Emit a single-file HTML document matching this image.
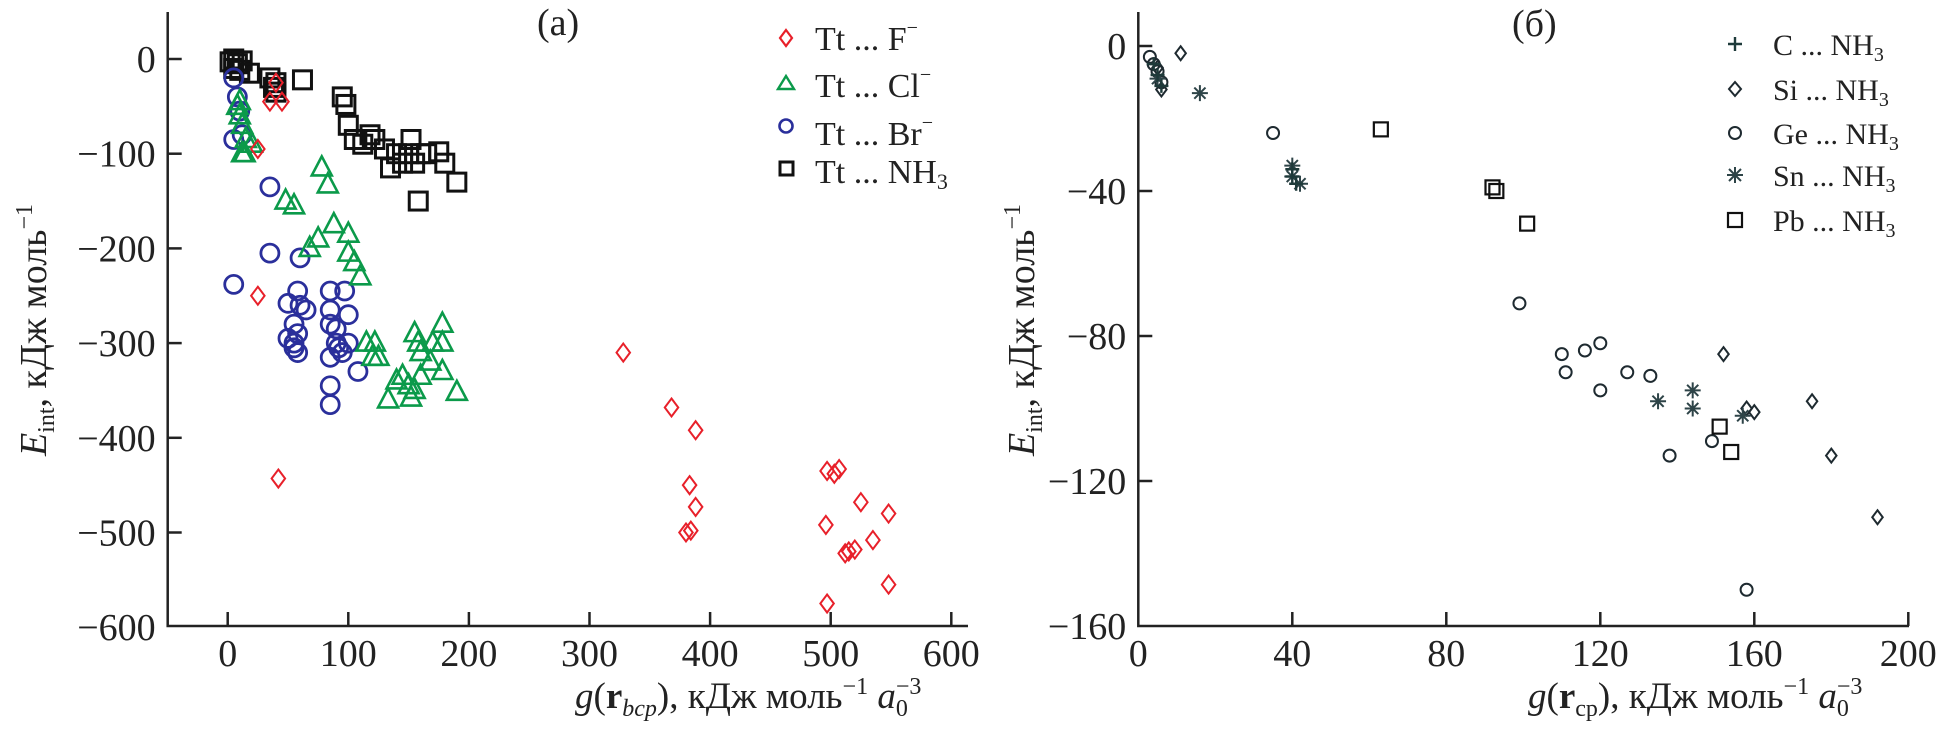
<!DOCTYPE html>
<html><head><meta charset="utf-8"><style>
html,body{margin:0;padding:0;background:#fff}
svg{display:block;font-family:"Liberation Serif",serif}
</style></head><body>
<svg id="chart" width="1951" height="737" viewBox="0 0 1951 737" xmlns="http://www.w3.org/2000/svg">
<g id="pa"></g>
<g id="pb"></g>
</svg>
<script>
// Panel (a) data
const aTicksX=[0,100,200,300,400,500,600];
const aTicksY=[0,-100,-200,-300,-400,-500,-600];
const aF_x=[40,45,35,25,25,42,328,368,388,383,388,380,384,497,503,507,496,525,548,535,520,512,515,548,497];
const aF_y=[-25,-45,-45,-95,-250,-443,-310,-368,-392,-450,-473,-500,-498,-435,-438,-433,-492,-468,-480,-508,-518,-522,-520,-555,-575];
const aCl_x=[8,10,10,12,15,20,12,14,78,83,55,48,88,75,68,100,100,105,110,115,122,125,120,155,158,160,170,178,178,168,178,145,140,150,155,152,133,190,160];
const aCl_y=[-50,-45,-60,-70,-85,-90,-100,-100,-115,-133,-155,-150,-175,-190,-200,-185,-205,-215,-230,-300,-300,-315,-315,-290,-300,-310,-300,-280,-300,-320,-330,-335,-340,-345,-350,-358,-360,-352,-335];
const aBr_x=[5,8,10,12,5,35,35,60,5,58,85,97,50,60,65,85,100,85,90,55,58,50,55,58,100,95,92,90,85,108,85,85,55];
const aBr_y=[-20,-40,-55,-80,-85,-135,-205,-210,-238,-245,-245,-245,-258,-260,-265,-265,-270,-280,-285,-280,-290,-295,-300,-310,-300,-310,-305,-300,-315,-330,-345,-365,-305];
const aN_x=[2,5,8,12,5,10,18,35,40,40,38,62,95,98,100,105,112,118,122,130,140,145,150,152,155,160,165,175,180,190,158,135];
const aN_y=[-3,0,-5,-2,-10,-12,-15,-20,-25,-35,-30,-22,-40,-48,-70,-85,-90,-80,-85,-95,-100,-110,-100,-85,-110,-100,-100,-98,-110,-130,-150,-115];
// Panel (б) data
const bTicksX=[0,40,80,120,160,200];
const bTicksY=[0,-40,-80,-120,-160];
const bC_x=[4,5,6,40,41,40];
const bC_y=[-5,-8,-11,-34,-38,-36];
const bSi_x=[11,5,6,152,158,160,175,180,192];
const bSi_y=[-2,-6,-12,-85,-100,-101,-98,-113,-130];
const bGe_x=[3,4,5,6,35,99,110,111,116,120,120,127,133,138,149,158];
const bGe_y=[-3,-5,-7,-10,-24,-71,-85,-90,-84,-82,-95,-90,-91,-113,-109,-150];
const bSn_x=[16,40,40,42,135,144,144,157,5];
const bSn_y=[-13,-33,-36,-38,-98,-95,-100,-102,-9];
const bPb_x=[63,92,93,101,151,154];
const bPb_y=[-23,-39,-40,-49,-105,-112];

const NS="http://www.w3.org/2000/svg";
function mk(tag,attrs,parent){const e=document.createElementNS(NS,tag);for(const k in attrs)e.setAttribute(k,attrs[k]);parent.appendChild(e);return e;}

function marker(g,type,cx,cy,s,color,sw){
  let e;
  if(type==='circle'){e=mk('circle',{cx:cx,cy:cy,r:s,fill:'none',stroke:color,'stroke-width':sw},g);}
  else if(type==='square'){e=mk('rect',{x:cx-s,y:cy-s,width:2*s,height:2*s,fill:'none',stroke:color,'stroke-width':sw},g);}
  else if(type==='tri'){e=mk('polygon',{points:`${cx},${cy-s*1.15} ${cx-s},${cy+s*0.75} ${cx+s},${cy+s*0.75}`,fill:'none',stroke:color,'stroke-width':sw},g);}
  else if(type==='diamond'){e=mk('polygon',{points:`${cx},${cy-s} ${cx+s*0.75},${cy} ${cx},${cy+s} ${cx-s*0.75},${cy}`,fill:'none',stroke:color,'stroke-width':sw},g);}
  else if(type==='plus'){e=mk('path',{d:`M${cx-s},${cy}H${cx+s}M${cx},${cy-s}V${cy+s}`,stroke:color,'stroke-width':sw,fill:'none'},g);}
  else if(type==='star'){const d=s*0.7;e=mk('path',{d:`M${cx-s},${cy}H${cx+s}M${cx},${cy-s}V${cy+s}M${cx-d},${cy-d}L${cx+d},${cy+d}M${cx-d},${cy+d}L${cx+d},${cy-d}`,stroke:color,'stroke-width':sw,fill:'none'},g);}
  return e;
}

// ---------- Panel a ----------
const pa=document.getElementById('pa');
const aX=v=>227.7+1.206*v, aY=v=>59-0.947*v;
const aL=167.7,aB=626,aR=968,aT=12;
mk('path',{d:`M${aL},${aT}V${aB}H${aR}`,stroke:'#222',fill:'none','stroke-width':2.5},pa);
aTicksX.forEach(v=>{
  const t=mk('line',{x1:aX(v),x2:aX(v),y1:aB,y2:aB-14,stroke:'#222','stroke-width':2.5},pa);
  
  
  const l=mk('text',{x:aX(v),y:aB+40,'font-size':38,'text-anchor':'middle',fill:'#222'},pa);
  l.textContent=v;
  
  
});
aTicksY.forEach(v=>{
  if(v!==-600){const t=mk('line',{x1:aL,x2:aL+14,y1:aY(v),y2:aY(v),stroke:'#222','stroke-width':2.5},pa);
  
  }
  const l=mk('text',{x:aL-12,y:aY(v)+13,'font-size':38,'text-anchor':'end',fill:'#222'},pa);
  l.textContent=v===0?'0':'\u2212'+Math.abs(v);
  
  
});
function series(g,xs,ys,fx,fy,type,s,color,sw,name){
  const sg=mk('g',{},g);
  
  
  xs.forEach((x,i)=>{const m=marker(sg,type,fx(x),fy(ys[i]),s,color,sw);
    
    });
}
series(pa,aN_x,aN_y,aX,aY,'square',9,'#111',3,'series-nh3');
series(pa,aBr_x,aBr_y,aX,aY,'circle',9,'#2a2f9b',2.8,'series-br');
series(pa,aCl_x,aCl_y,aX,aY,'tri',10,'#0b9a4a',2.6,'series-cl');
series(pa,aF_x,aF_y,aX,aY,'diamond',9,'#e8202a',2,'series-f');

// ---------- Panel b ----------
const pb=document.getElementById('pb');
const bX=v=>1138.3+3.85*v, bY=v=>46-3.625*v;
const bL=1138.3,bB=626,bR=1909,bT=12;
mk('path',{d:`M${bL},${bT}V${bB}H${bR}`,stroke:'#222',fill:'none','stroke-width':2.5},pb);
bTicksX.forEach(v=>{
  if(v!==0){const t=mk('line',{x1:bX(v),x2:bX(v),y1:bB,y2:bB-14,stroke:'#222','stroke-width':2.5},pb);
  
  }
  const l=mk('text',{x:bX(v),y:bB+40,'font-size':38,'text-anchor':'middle',fill:'#222'},pb);
  l.textContent=v;
  
  
});
bTicksY.forEach(v=>{
  if(v!==-160){const t=mk('line',{x1:bL,x2:bL+14,y1:bY(v),y2:bY(v),stroke:'#222','stroke-width':2.5},pb);
  
  }
  const l=mk('text',{x:bL-12,y:bY(v)+13,'font-size':38,'text-anchor':'end',fill:'#222'},pb);
  l.textContent=v===0?'0':'\u2212'+Math.abs(v);
  
  
});
series(pb,bGe_x,bGe_y,bX,bY,'circle',6,'#1e2a30',2,'series-ge');
series(pb,bSi_x,bSi_y,bX,bY,'diamond',7,'#1e2a30',2,'series-si');
series(pb,bPb_x,bPb_y,bX,bY,'square',7,'#111',2.2,'series-pb');
series(pb,bSn_x,bSn_y,bX,bY,'star',8,'#2e4448',2,'series-sn');
series(pb,bC_x,bC_y,bX,bY,'plus',7,'#1e3a3a',2.4,'series-c');
</script>
<svg width="1951" height="737" style="position:absolute;left:0;top:0" xmlns="http://www.w3.org/2000/svg" font-family="Liberation Serif, serif" fill="#222">
 <text x="537" y="35" font-size="38">(a)</text>
 <text x="1512" y="36" font-size="38">(б)</text>
 <!-- Left legend -->
 <g font-size="34">
  <g><polygon points="786,30 792,38 786,46 780,38" fill="none" stroke="#e8202a" stroke-width="2.2"/><text x="815" y="50">Tt ... F<tspan font-size="20" dy="-16">−</tspan></text></g>
  <g><polygon points="786,76 778,89 794,89" fill="none" stroke="#0b9a4a" stroke-width="2.4"/><text x="815" y="97">Tt ... Cl<tspan font-size="20" dy="-16">−</tspan></text></g>
  <g><circle cx="786" cy="126" r="6.5" fill="none" stroke="#2a2f9b" stroke-width="2.6"/><text x="815" y="145">Tt ... Br<tspan font-size="20" dy="-16">−</tspan></text></g>
  <g><rect x="780" y="162" width="13" height="13" fill="none" stroke="#111" stroke-width="3"/><text x="815" y="183">Tt ... NH<tspan font-size="22" dy="6">3</tspan></text></g>
 </g>
 <!-- Right legend -->
 <g font-size="30">
  <g><path d="M1728,44H1742M1735,37V51" stroke="#1e3a3a" stroke-width="2.4"/><text x="1773" y="55">C ... NH<tspan font-size="20" dy="6">3</tspan></text></g>
  <g><polygon points="1735,82 1741,89 1735,96 1729,89" fill="none" stroke="#1e2a30" stroke-width="2"/><text x="1773" y="100">Si ... NH<tspan font-size="20" dy="6">3</tspan></text></g>
  <circle cx="1735" cy="133" r="6" fill="none" stroke="#1e2a30" stroke-width="2"/><text x="1773" y="144">Ge ... NH<tspan font-size="20" dy="6">3</tspan></text>
  <path d="M1727,175H1743M1735,167V183M1729,169L1741,181M1729,181L1741,169" stroke="#2e4448" stroke-width="2"/><text x="1773" y="186">Sn ... NH<tspan font-size="20" dy="6">3</tspan></text>
  <rect x="1728" y="213" width="14" height="14" fill="none" stroke="#111" stroke-width="2.2"/><text x="1773" y="231">Pb ... NH<tspan font-size="20" dy="6">3</tspan></text>
 </g>
 <!-- Axis titles -->
 <text x="575" y="708" font-size="37"><tspan font-style="italic">g</tspan>(<tspan font-weight="bold">r</tspan><tspan font-style="italic" font-size="24" dy="8">bcp</tspan><tspan dy="-8">), кДж моль</tspan><tspan font-size="24" dy="-14">−1</tspan><tspan dy="14"> </tspan><tspan font-style="italic">a</tspan><tspan font-size="24" dy="8">0</tspan><tspan font-size="24" dx="-12" dy="-22">−3</tspan></text>
 <text x="1528" y="708" font-size="37"><tspan font-style="italic">g</tspan>(<tspan font-weight="bold">r</tspan><tspan font-size="24" dy="8">cp</tspan><tspan dy="-8">), кДж моль</tspan><tspan font-size="24" dy="-14">−1</tspan><tspan dy="14"> </tspan><tspan font-style="italic">a</tspan><tspan font-size="24" dy="8">0</tspan><tspan font-size="24" dx="-12" dy="-22">−3</tspan></text>
 <text transform="translate(46,330) rotate(-90)" text-anchor="middle" font-size="38"><tspan font-style="italic">E</tspan><tspan font-size="24" dy="8">int</tspan><tspan dy="-8">, кДж моль</tspan><tspan font-size="24" dy="-14">−1</tspan></text>
 <text transform="translate(1034,330) rotate(-90)" text-anchor="middle" font-size="38"><tspan font-style="italic">E</tspan><tspan font-size="24" dy="8">int</tspan><tspan dy="-8">, кДж моль</tspan><tspan font-size="24" dy="-14">−1</tspan></text>
</svg>
</body></html>
